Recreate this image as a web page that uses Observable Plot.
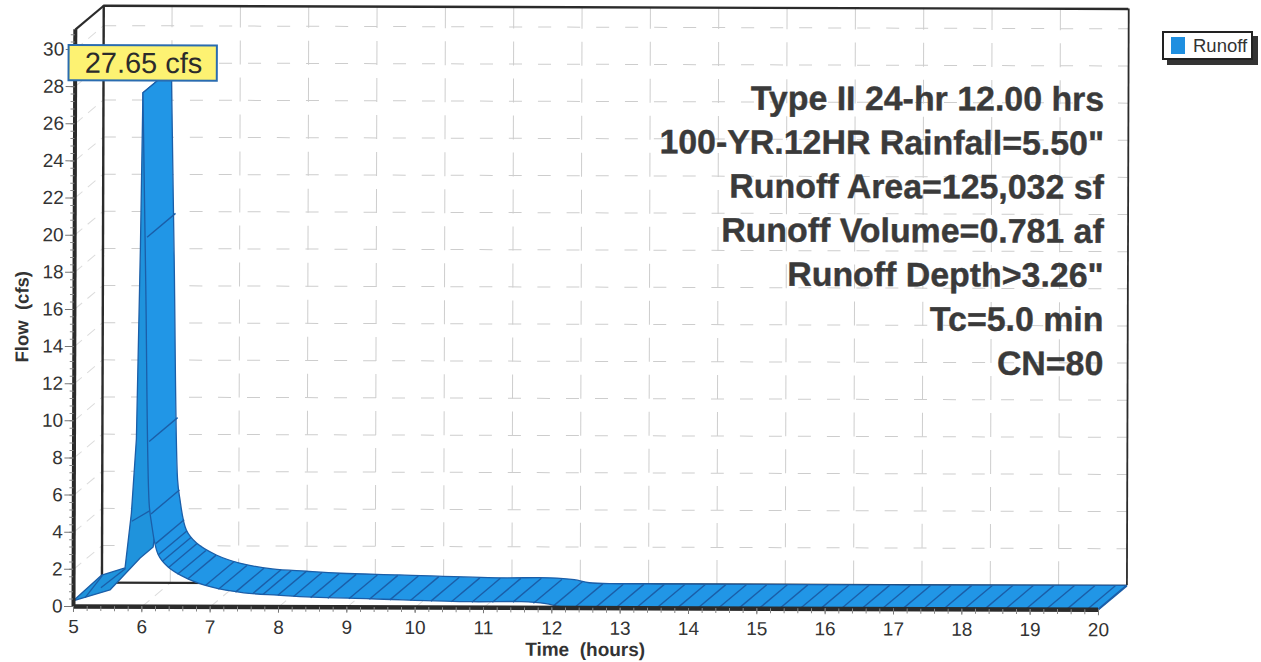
<!DOCTYPE html>
<html><head><meta charset="utf-8">
<script src="https://cdn.jsdelivr.net/npm/d3@7"></script>
<script src="https://cdn.jsdelivr.net/npm/@observablehq/plot@0.6"></script>
<style>
html,body{margin:0;padding:0;background:#fff;overflow:hidden;width:1261px;height:662px}
#chart svg{display:block;transform-origin:73px 606px;transform:rotate(0.18deg)}
#legend{position:absolute;left:1162px;top:31px;width:87px;height:25px;background:#fff;border:2px solid #222;box-shadow:5px 5px 0 #333;font:18.5px "Liberation Sans";color:#333;line-height:25px}
#legend i{position:absolute;left:7px;top:4px;width:14px;height:17px;background:#1f8fe0}
#legend span{position:absolute;left:29px;top:0}
</style></head><body>
<div id="chart"></div>
<div id="legend"><i></i><span>Runoff</span></div>
<script>
// Depth of the pseudo-3D chart, in data units
const depthT = 0.415, depthF = 1.29, frontTop = 31.07;

const xTicks = [5,6,7,8,9,10,11,12,13,14,15,16,17,18,19,20];
const yTicks = [0,2,4,6,8,10,12,14,16,18,20,22,24,26,28,30];
const xMinor = d3.range(5, 20.01, 0.2);
const yMinor = d3.range(0, 31, 0.4);

// Rising face: left outline and right (lower) outline
const riseLeftT  = [5, 5.42, 5.76, 5.85, 5.92, 5.97, 6.0];
const riseLeftF  = [0.27, 1.67, 2.06, 5.0, 9, 19.3, 27.65];
const riseRightT = [5, 5.54, 5.98, 6.17, 6.2, 6.3, 6.42];
const riseRightF = [0.27, 0.87, 2.6, 3.19, 4.1, 15, 28.94];

// Runoff hydrograph, front edge from the peak on
const hours = [6.0,6.05,6.11,6.14,6.24,6.39,6.68,7.02,7.5,8.0,8.5,9.36,10.82,11.56,11.92,12.14,12.6,20];
const flow  = [27.65,17.35,5.51,4.59,2.82,2.12,1.48,1.05,0.74,0.62,0.52,0.44,0.30,0.31,0.21,0.05,0,0];

// Hatch lines on the falling limb
const hatchT = [6.06,6.1,6.13,6.2,6.24,6.3,6.39,6.52,6.67,6.93,7.12,7.37,7.62,7.77,7.99,8.22,8.47,8.72,9.03,9.33,9.63,9.93,10.23,10.53,10.83,11.13,11.43,11.73,12.03,12.33,12.63,12.93,13.23,13.53,13.83,14.13,14.43,14.73,15.03,15.33,15.63,15.93,16.23,16.53,16.83,17.13,17.43,17.73,18.03,18.33,18.63,18.93,19.23,19.53,19.83];
const hatchF = [19.9,8.9,5,3.4,2.8,2.45,2.12,1.75,1.5,1.15,0.95,0.8,0.72,0.68,0.64,0.58,0.52,0.49,0.46,0.44,0.41,0.38,0.35,0.32,0.3,0.3,0.31,0.25,0.13,0.02,0,0,0,0,0,0,0,0,0,0,0,0,0,0,0,0,0,0,0,0,0,0,0,0,0];

// Hatch lines on the rising face
const riseHatchT1 = [5.17,5.4,5.85], riseHatchF1 = [0.48,1.02,4.6];
const riseHatchT2 = [5.42,5.76,6.17], riseHatchF2 = [1.67,2.06,5.3];

const infoLines = ['Type II 24-hr 12.00 hrs','100-YR.12HR Rainfall=5.50"','Runoff Area=125,032 sf','Runoff Volume=0.781 af','Runoff Depth>3.26"','Tc=5.0 min','CN=80'];
const infoF = [27.46,25.09,22.72,20.35,17.98,15.59,13.22];

const gridC = "#cdcdcd", lineC = "#2b2b2b", edgeC = "#1b5ea8", textC = "#333";
const idx = a => a.map((_, i) => i);

const plot = Plot.plot({
  width: 1261, height: 662,
  marginLeft: 73, marginRight: 163, marginTop: 49, marginBottom: 56,
  x: {domain: [5, 20]},
  y: {domain: [0, 30]},
  style: {fontFamily: '"Liberation Sans", Arial, sans-serif', background: "transparent", overflow: "visible"},
  marks: [
    // back-plane grid
    Plot.ruleY(yTicks.slice(1), {y: d => d + depthF, x1: 5 + depthT, x2: 20 + depthT, stroke: gridC, strokeWidth: 1, strokeDasharray: "13 16"}),
    Plot.ruleX(xTicks.slice(1,-1), {x: d => d + depthT, y1: depthF, y2: frontTop + depthF, stroke: gridC, strokeWidth: 1, strokeDasharray: "24 13"}),
    // wall and floor diagonals
    Plot.link(yTicks.slice(1), {x1: 5, y1: d => d, x2: 5 + depthT, y2: d => d + depthF, stroke: "#dcdcdc", strokeWidth: 1, strokeDasharray: "10 7"}),
    Plot.link(xTicks.slice(1), {x1: d => d, y1: 0, x2: d => d + depthT, y2: depthF, stroke: "#dcdcdc", strokeWidth: 1, strokeDasharray: "10 7"}),
    // frame
    Plot.ruleX([5 + depthT], {y1: depthF, y2: frontTop + depthF, stroke: lineC, strokeWidth: 2.4}),
    Plot.ruleX([20 + depthT], {y1: depthF, y2: frontTop + depthF, stroke: lineC, strokeWidth: 1.8}),
    Plot.ruleY([depthF], {x1: 5 + depthT, x2: 20 + depthT, stroke: lineC, strokeWidth: 2.2}),
    Plot.ruleY([frontTop + depthF], {x1: 5 + depthT, x2: 20 + depthT, stroke: lineC, strokeWidth: 2.4}),
    Plot.link([0], {x1: 5, y1: frontTop, x2: 5 + depthT, y2: frontTop + depthF, stroke: lineC, strokeWidth: 2.2}),
    // rising face
    Plot.area(idx(riseLeftT), {x1: i => riseLeftT[i], y1: i => riseLeftF[i], x2: i => riseRightT[i], y2: i => riseRightF[i], fill: "#1f93dc", stroke: edgeC, strokeWidth: 1.3, curve: "linear"}),
    Plot.link(idx(riseHatchT1), {x1: i => riseHatchT1[i], y1: i => riseHatchF1[i], x2: i => riseHatchT2[i], y2: i => riseHatchF2[i], stroke: edgeC, strokeWidth: 1.3}),
    // falling limb
    Plot.area(idx(hours), {x1: i => hours[i], y1: i => flow[i], x2: i => hours[i] + depthT, y2: i => flow[i] + depthF, fill: "#2196e6", stroke: edgeC, strokeWidth: 1.3, curve: "catmull-rom"}),
    Plot.link(idx(hatchT), {x1: i => hatchT[i], y1: i => hatchF[i], x2: i => hatchT[i] + depthT, y2: i => hatchF[i] + depthF, stroke: edgeC, strokeWidth: 1.4}),
    // end cap and axes
    Plot.link([0], {x1: 20, y1: 0, x2: 20 + depthT, y2: depthF, stroke: edgeC, strokeWidth: 1.4}),
    Plot.ruleY([0], {x1: 5, x2: 20, stroke: lineC, strokeWidth: 4.5}),
    Plot.ruleX([5], {y1: 0, y2: frontTop, stroke: lineC, strokeWidth: 4}),
    Plot.axisX({ticks: xMinor, tickSize: 5, text: null, label: null, stroke: "#888"}),
    Plot.axisY({ticks: yMinor, tickSize: 4, text: null, label: null, stroke: "#888"}),
    Plot.axisX({ticks: xTicks, tickSize: 6, tickPadding: 7, label: null, fontSize: 19, fill: textC, stroke: "#777"}),
    Plot.axisY({ticks: yTicks, tickSize: 9, tickPadding: 2, label: null, fontSize: 19, fill: textC, stroke: "#777"}),
    Plot.text(["Time\u00a0\u00a0(hours)"], {x: 12.49, y: -2.25, fontSize: 19, fontWeight: "bold", fill: textC}),
    Plot.text(["Flow\u00a0\u00a0(cfs)"], {x: 4.24, y: 15.6, rotate: -90, fontSize: 18.5, fontWeight: "bold", fill: textC}),
    // information block
    Plot.text(infoLines, {x: 20.06, y: (d, i) => infoF[i], text: d => d, textAnchor: "end", fontSize: 33.9, fontWeight: "bold", fill: "#3a3a3a", stroke: "#3a3a3a", strokeWidth: 0.4}),
    // peak label
    Plot.rect([0], {x1: 4.91, x2: 7.08, y1: 28.32, y2: 30.21, fill: "#fdf272", stroke: "#2a6cb0", strokeWidth: 2}),
    Plot.text(["27.65 cfs"], {x: 6.0, y: 29.25, fontSize: 29, fill: "#2b2b2b"})
  ]
});
document.getElementById("chart").append(plot);
</script>
</body></html>
